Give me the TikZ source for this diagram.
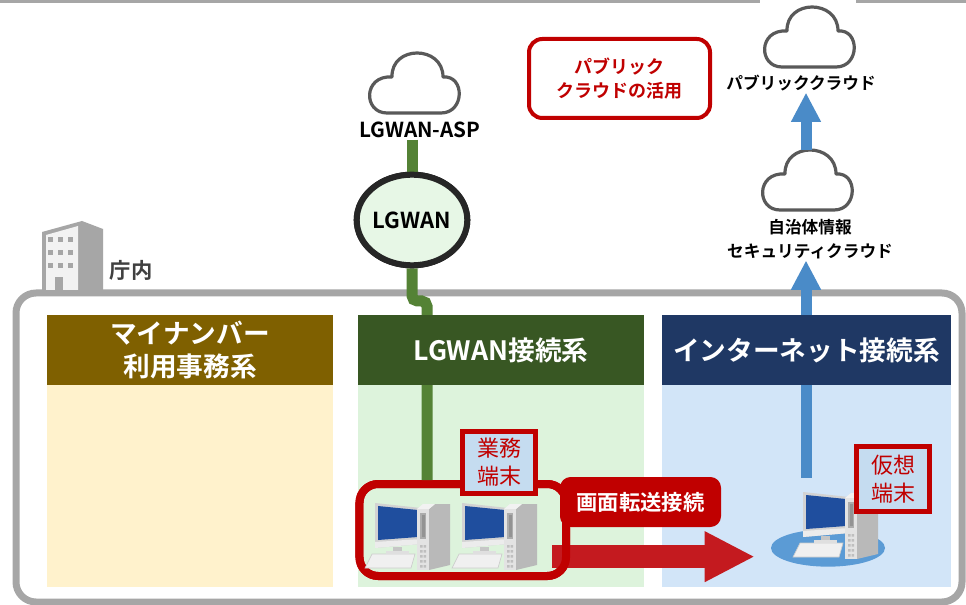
\documentclass[tikz,border=0pt]{standalone}
\usepackage{fontspec}
\setmainfont{Noto Sans CJK JP}[BoldFont={Noto Sans CJK JP Bold}]
\usetikzlibrary{
  arrows.meta,     % Triangle 矢印
  positioning,     % 節点の相対配置
  shapes.geometric % LGWAN の楕円
}

\definecolor{mynumdark}{HTML}{7F6000}
\definecolor{mynumlight}{HTML}{FFF2CC}
\definecolor{lgwandark}{HTML}{385723}
\definecolor{lgwanlight}{HTML}{DDF3DC}
\definecolor{inetdark}{HTML}{1F3864}
\definecolor{inetlight}{HTML}{D2E5F8}
\definecolor{alertred}{HTML}{C00000}
\definecolor{sendred}{HTML}{C41A1F}
\definecolor{linkgreen}{HTML}{548235}
\definecolor{linkblue}{HTML}{4A8BC8}
\definecolor{framegray}{HTML}{A6A6A6}
\definecolor{cloudgray}{HTML}{595959}
\definecolor{tagblue}{HTML}{C5DCF0}
\definecolor{pcscreen}{HTML}{1F4E9E}
\definecolor{padblue}{HTML}{5B9BD5}

\tikzset{
  topline/.style={draw=gray!70, line width=3pt},
  officeframe/.style={draw=framegray, line width=5.25pt, rounded corners=15pt},
  body/.style={fill=#1, inner sep=0pt, minimum width=214.5pt, minimum height=151.5pt},
  header/.style={
    fill=#1, text=white, inner sep=0pt, align=center,
    minimum width=214.5pt, minimum height=52.5pt,
    font=\fontsize{20}{25}\selectfont\bfseries
  },
  cloudline/.style={draw=cloudgray, fill=white, line width=2.4pt, line join=round},
  cloudtext/.style={inner sep=1pt, align=center, font=\fontsize{12.5}{18}\selectfont\bfseries},
  greenlink/.style={draw=linkgreen, line width=8.25pt},
  uplink/.style={draw=linkblue, line width=8.25pt, -{Triangle[width=21pt, length=22pt]}},
  netball/.style={
    ellipse, draw=black!85, line width=4.5pt, fill=lgwanlight!70!white,
    minimum width=74pt, minimum height=68pt, inner sep=0pt,
    font=\fontsize{16.5}{18}\selectfont\bfseries
  },
  framebox/.style={
    draw=alertred, line width=6pt, rounded corners=14pt, inner sep=0pt,
    minimum width=154.9pt, minimum height=69pt
  },
  callout/.style={
    draw=alertred, line width=3pt, rounded corners=10pt, fill=white,
    text=alertred, align=center, minimum width=135.75pt, minimum height=59.25pt,
    font=\fontsize{13.5}{17.5}\selectfont\bfseries
  },
  termtag/.style={
    draw=alertred, line width=3.75pt, fill=tagblue, text=alertred, align=center,
    minimum width=54.75pt, minimum height=46pt, inner sep=0pt,
    font=\fontsize{16.5}{21}\selectfont
  },
  sendarrow/.style={
    draw=sendred, line width=17.25pt,
    -{Triangle[width=35.25pt, length=37.5pt]}
  }
}

% 雲アイコン（#1: 名前, #2: 中心）
\newcommand{\cloudicon}[2]{%
  \begin{scope}[shift={#2}]
    \draw[cloudline] (-26,30) -- (28,30) .. controls (52,30) and (52,-8) .. (30,-6)
      .. controls (30,-38) and (-22,-38) .. (-21,-6)
      .. controls (-50,-8) and (-50,30) .. (-26,30) -- cycle;
    \node[inner sep=0pt, minimum width=67.5pt, minimum height=45pt] (#1) at (0,0) {};
  \end{scope}}

% 端末アイコン（#1: モニタ左上）
\newcommand{\pcicon}[1]{%
  \begin{scope}[shift={#1}]
    % キーボード
    \filldraw[fill=gray!12, draw=gray!40, line width=0.5pt]
      (-3,51) -- (40,51) -- (36,65) -- (-10,65) -- cycle;
    % モニタ
    \fill[gray!35] (0,0) -- (46,5) -- (46,41) -- (0,45) -- cycle;
    \fill[gray!15] (0,39) -- (46,36) -- (46,41) -- (0,45) -- cycle;
    \fill[pcscreen] (3,3) -- (43,7) -- (43,34) -- (3,37) -- cycle;
    \fill[gray!45] (18,44) rectangle (27,49);
    \fill[gray!25] (11,48) rectangle (34,51);
    % 本体
    \fill[gray!55] (54,6) -- (60,1) -- (75,1) -- (75,62) -- (54,67) -- cycle;
    \fill[gray!10] (42,6) -- (48,1) -- (60,1) -- (54,6) -- cycle;
    \fill[gray!22] (42,6) rectangle (54,67);
    \fill[gray!65] (45,10) rectangle (51,36);
    \fill[gray!85] (46.5,12) rectangle (49.5,34);
    \foreach \by in {42,47,52,57,62}
      \fill[gray!50] (45,\by) rectangle ++(2.5,2.5) (48.5,\by) rectangle ++(2.5,2.5);
  \end{scope}}

\begin{document}
\begin{tikzpicture}[x=0.75pt, y=-0.75pt]
  \useasboundingbox[fill=white] (0,0) rectangle (966,605);

  % ---- 上端の区切り線 ----
  \draw[topline] (0,1.5) -- (760,1.5);
  \draw[topline] (856,1.5) -- (966,1.5);

  % ---- 庁内の枠と建物 ----
  \draw[officeframe] (16,293) rectangle (962,602);
  \fill[framegray] (42,232) -- (82,221) -- (103,229) -- (103,290) -- (42,290) -- cycle;
  \fill[gray!10] (46,235) -- (78,226) -- (78,290) -- (46,290) -- cycle;
  \foreach \wx in {48,58,68}
    \foreach \wy in {237,250,263}
      \fill[framegray] (\wx,\wy) rectangle ++(5,5);
  \fill[framegray] (55,277) rectangle (63,290);
  \node[font=\fontsize{16}{18}\selectfont\bfseries, text=black!75] (officelabel) at (131,270) {庁内};

  % ---- 3 系統の下地 ----
  \node[body=mynumlight] (mynumbody) at (190,486) {};
  \node[body=lgwanlight] (lgwanbody) at (501,486) {};
  \node[body=inetlight, minimum width=216.75pt] (inetbody) at (806.5,486) {};

  % ---- 雲とラベル ----
  \cloudicon{aspcloud}{(413,83)}
  \cloudicon{pubcloud}{(808,37)}
  \cloudicon{seccloud}{(806,180)}
  \node[cloudtext, font=\fontsize{15.5}{17}\selectfont\bfseries] (asptext) at (420,130) {LGWAN-ASP};
  \node[cloudtext] (pubtext) at (801,83) {パブリッククラウド};
  \node[cloudtext] (sectext) at (810,239) {自治体情報\\セキュリティクラウド};
  \node[callout] (pubnote) at (619.5,78.5) {パブリック\\クラウドの活用};

  % ---- 端末まわり ----
  \node[draw=none, inner sep=0pt, minimum width=10pt, minimum height=63pt] (vpc) at (806,520) {};
  \node[ellipse, fill=padblue, inner sep=0pt, minimum width=85.5pt, minimum height=28pt]
    (vpcbase) at (828,548) {};
  \node[framebox] (termframe) at (462.75,530) {};

  % 画面転送の矢印
  \draw[sendarrow, shorten >=12pt] ([xshift=-13.5pt, yshift=-20pt]termframe.east)
    coordinate (sendfrom) -- (sendfrom -| vpcbase.west);
  \node[framebox] at (termframe) {};

  \pcicon{(375,503)}
  \pcicon{(462,503)}
  \pcicon{(803,492)}

  % ---- 接続線 ----
  \node[netball] (lgwan) at (412,220) {LGWAN};
  \coordinate (jog) at (427,301);
  \draw[greenlink] (lgwan.north |- asptext.south) -- (lgwan.north);
  \draw[greenlink, rounded corners=4pt] (lgwan.south) |- (jog) -- (jog |- termframe.north);
  \node[netball] at (lgwan) {LGWAN};
  \draw[uplink] (seccloud.north) -- (seccloud.north |- pubtext.south);
  \draw[uplink] (vpc.north) -- (vpc.north |- sectext.south);

  % ---- 見出し ----
  \node[header=mynumdark] (mynumhead) at (190,350) {マイナンバー\\利用事務系};
  \node[header=lgwandark] (lgwanhead) at (501,350) {LGWAN接続系};
  \node[header=inetdark, minimum width=216.75pt] (inethead) at (806.5,350) {インターネット接続系};

  % ---- 札 ----
  \node[termtag] (worktag) at (499,462.5) {業務\\端末};
  \node[termtag, minimum height=48.75pt] (virttag) at (893,479) {仮想\\端末};
  \node[fill=alertred, rounded corners=8pt, text=white, inner sep=0pt,
    minimum width=120.75pt, minimum height=37.5pt,
    font=\fontsize{16}{18}\selectfont\bfseries] (sendlabel) at (640.5,502) {画面転送接続};
\end{tikzpicture}
\end{document}
